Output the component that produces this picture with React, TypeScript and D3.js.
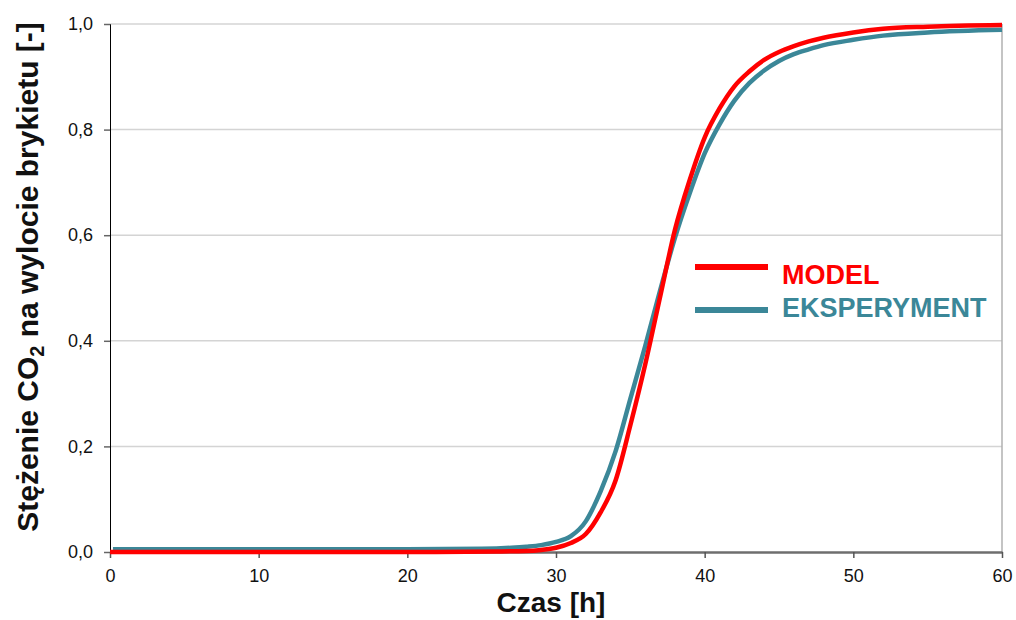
import React, { useEffect, useRef } from 'react';
import * as d3 from 'd3';

// czas [h]
const modelTime = [0, 10, 20, 26, 28, 29, 30, 31, 32, 33, 34, 35, 36, 37, 38, 39, 40, 41, 42, 43, 44, 45, 46, 47, 48, 50, 52, 55, 60];
const modelValues = [0.0, 0.0, 0.0, 0.001, 0.002, 0.004, 0.008, 0.017, 0.034, 0.075, 0.135, 0.24, 0.355, 0.483, 0.61, 0.705, 0.785, 0.84, 0.882, 0.91, 0.932, 0.947, 0.958, 0.967, 0.974, 0.984, 0.991, 0.995, 0.998];

const expTime = [0.2, 10, 20, 25, 27, 28, 29, 30, 31, 32, 33, 34, 35, 36, 37, 38, 39, 40, 41, 42, 43, 44, 45, 46, 47, 48, 50, 52, 55, 60];
const expValues = [0.005, 0.005, 0.005, 0.006, 0.008, 0.01, 0.013, 0.019, 0.03, 0.058, 0.115, 0.19, 0.29, 0.39, 0.495, 0.595, 0.68, 0.755, 0.81, 0.855, 0.888, 0.912, 0.93, 0.943, 0.952, 0.96, 0.97, 0.978, 0.984, 0.989];

const xTicks = [0, 10, 20, 30, 40, 50, 60];
const yTicks = [0, 0.2, 0.4, 0.6, 0.8, 1.0];

const RED = '#ff0000';
const TEAL = '#3b8798';

const Chart = () => {
    const ref = useRef<SVGSVGElement>(null);

    useEffect(() => {
        const svg = d3.select(ref.current);
        svg.selectAll('*').remove();

        const left = 110, right = 1002, top = 24, bottom = 552;
        const font = 'Liberation Sans, Arial, sans-serif';

        const x = d3.scaleLinear().domain([0, 60]).range([left, right]);
        const y = d3.scaleLinear().domain([0, 1]).range([bottom, top]);

        // siatka
        svg.append('g')
            .selectAll('line')
            .data(yTicks.filter(d => d > 0))
            .enter()
            .append('line')
            .attr('x1', left)
            .attr('x2', right)
            .attr('y1', d => y(d))
            .attr('y2', d => y(d))
            .attr('stroke', '#d4d4d4')
            .attr('stroke-width', 1.5);

        svg.append('line')
            .attr('x1', right).attr('x2', right)
            .attr('y1', top).attr('y2', bottom)
            .attr('stroke', '#b0b0b0')
            .attr('stroke-width', 1.5);

        // osie
        const yAxis = svg.append('g')
            .attr('transform', `translate(${left},0)`)
            .call(d3.axisLeft(y).tickValues(yTicks).tickSize(6).tickPadding(11)
                .tickFormat(d => d3.format('.1f')(+d).replace('.', ',')));
        yAxis.select('.domain').attr('stroke', '#000').attr('stroke-width', 1);
        yAxis.selectAll('.tick line').attr('stroke', '#666').attr('stroke-width', 1.5);
        yAxis.selectAll('text').attr('font-family', font).attr('font-size', 18).attr('fill', '#111');

        const xAxis = svg.append('g')
            .attr('transform', `translate(0,${bottom})`)
            .call(d3.axisBottom(x).tickValues(xTicks).tickSize(6).tickPadding(11).tickSizeOuter(0));
        xAxis.select('.domain').attr('stroke', '#6e6e6e').attr('stroke-width', 2.5);
        xAxis.selectAll('.tick line').attr('stroke', '#555').attr('stroke-width', 1.5);
        xAxis.selectAll('text').attr('font-family', font).attr('font-size', 18).attr('fill', '#111');

        // krzywe
        const line = d3.line<[number, number]>()
            .x(d => x(d[0]))
            .y(d => y(d[1]))
            .curve(d3.curveMonotoneX);

        svg.append('path')
            .datum(expTime.map((t, i) => [t, expValues[i]] as [number, number]))
            .attr('d', line)
            .attr('fill', 'none')
            .attr('stroke', TEAL)
            .attr('stroke-width', 4.5);

        svg.append('path')
            .datum(modelTime.map((t, i) => [t, modelValues[i]] as [number, number]))
            .attr('d', line)
            .attr('fill', 'none')
            .attr('stroke', RED)
            .attr('stroke-width', 4.5);

        // legenda
        const legend = [
            { name: 'MODEL', color: RED, y: 267, base: 284 },
            { name: 'EKSPERYMENT', color: TEAL, y: 310, base: 317 },
        ];
        legend.forEach(l => {
            svg.append('line')
                .attr('x1', 695).attr('x2', 768)
                .attr('y1', l.y).attr('y2', l.y)
                .attr('stroke', l.color)
                .attr('stroke-width', 6);
            svg.append('text')
                .attr('x', 782)
                .attr('y', l.base)
                .attr('font-family', font)
                .attr('font-weight', 'bold')
                .attr('font-size', 27)
                .attr('fill', l.color)
                .text(l.name);
        });

        // tytuly osi
        svg.append('text')
            .attr('x', 551)
            .attr('y', 612)
            .attr('text-anchor', 'middle')
            .attr('font-family', font)
            .attr('font-weight', 'bold')
            .attr('font-size', 28)
            .attr('fill', '#111')
            .text('Czas [h]');

        const yt = svg.append('text')
            .attr('transform', 'translate(38,277) rotate(-90)')
            .attr('text-anchor', 'middle')
            .attr('font-family', font)
            .attr('font-weight', 'bold')
            .attr('font-size', 30)
            .attr('fill', '#111');
        yt.append('tspan').text('Stężenie CO');
        yt.append('tspan').attr('dy', 6).attr('font-size', 20).text('2');
        yt.append('tspan').attr('dy', -6).text(' na wylocie brykietu [-]');
    }, []);

    return (
        <svg ref={ref} width="1016" height="620"
            style={{ position: 'absolute', left: 0, top: 0, background: '#fff' }} />
    );
};

export default function App() {
    return <Chart />;
}
